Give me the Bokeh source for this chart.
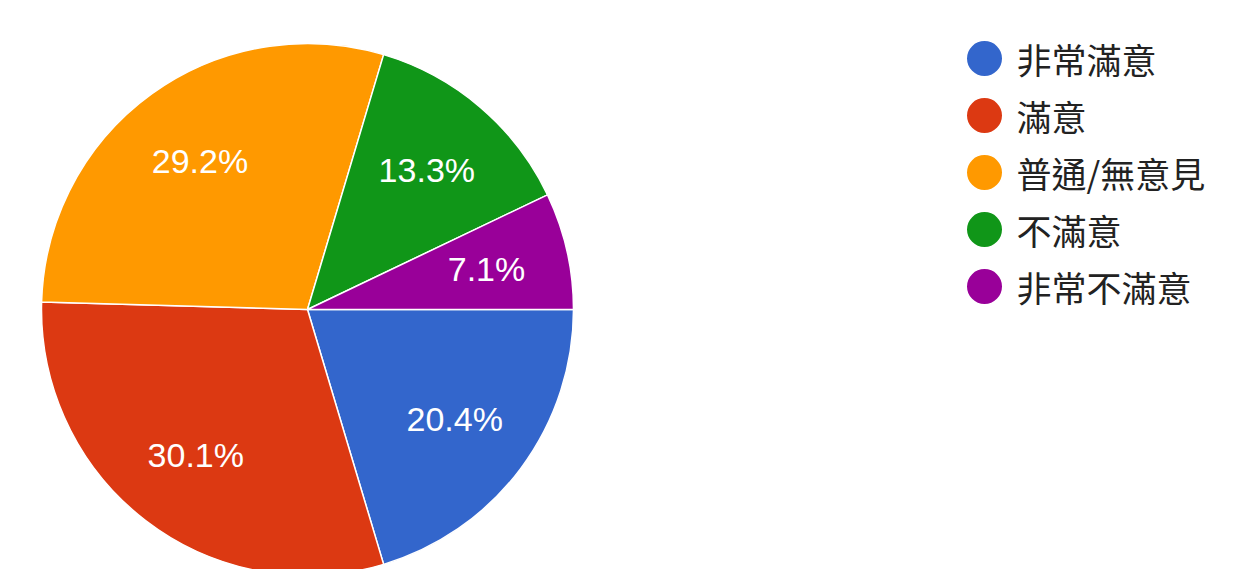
import math
from bokeh.plotting import figure
from bokeh.models import Range1d, ColumnDataSource
from bokeh.core.properties import value
from bokeh.embed import file_html
from bokeh.resources import INLINE

categories = ["非常滿意", "滿意", "普通/無意見", "不滿意", "非常不滿意"]
percents = [20.4, 30.1, 29.2, 13.3, 7.1]
labels = ["20.4%", "30.1%", "29.2%", "13.3%", "7.1%"]
colors = ["#3366CC", "#DC3912", "#FF9900", "#109618", "#990099"]

W, H = 1220, 569
cx, cy = 307, H - 309
R = 266

total = sum(percents)
starts, ends, mids = [], [], []
acc = 0.0
for v in percents:
    a0 = acc / total * 2 * math.pi
    acc += v
    a1 = acc / total * 2 * math.pi
    # clockwise from 3 o'clock
    starts.append(-a1)
    ends.append(-a0)
    mids.append(-(a0 + a1) / 2)

p = figure(width=W, height=H, output_backend="svg", toolbar_location=None,
           x_range=Range1d(0, W), y_range=Range1d(0, H), min_border=0)
p.axis.visible = False
p.grid.visible = False
p.outline_line_color = None
p.background_fill_color = "white"

src = ColumnDataSource(dict(start=starts, end=ends, color=colors))
p.wedge(x=cx, y=cy, radius=R, start_angle="start", end_angle="end",
        direction="anticlock", fill_color="color", line_color="white",
        line_width=1.5, source=src)

lr = 0.69 * R
lsrc = ColumnDataSource(dict(
    x=[cx + lr * math.cos(m) for m in mids],
    y=[cy + lr * math.sin(m) for m in mids],
    t=labels))
p.text(x="x", y="y", text="t", source=lsrc, text_color="white",
       text_font=value("Liberation Sans"), text_font_size="34px",
       text_align="center", text_baseline="middle")

# legend
lx, ly0, dy = 984, H - 58, 57
leg = ColumnDataSource(dict(
    x=[lx] * len(categories),
    y=[ly0 - i * dy for i in range(len(categories))],
    tx=[lx + 32] * len(categories),
    c=colors, t=categories))
p.scatter(x="x", y="y", size=35, fill_color="c", line_color=None, source=leg)
p.text(x="tx", y="y", text="t", source=leg, text_color="#222222",
       text_font=value("Noto Sans CJK TC"), text_font_size="35px",
       text_align="left", text_baseline="middle")

open("out.html", "w").write(file_html(p, INLINE))
